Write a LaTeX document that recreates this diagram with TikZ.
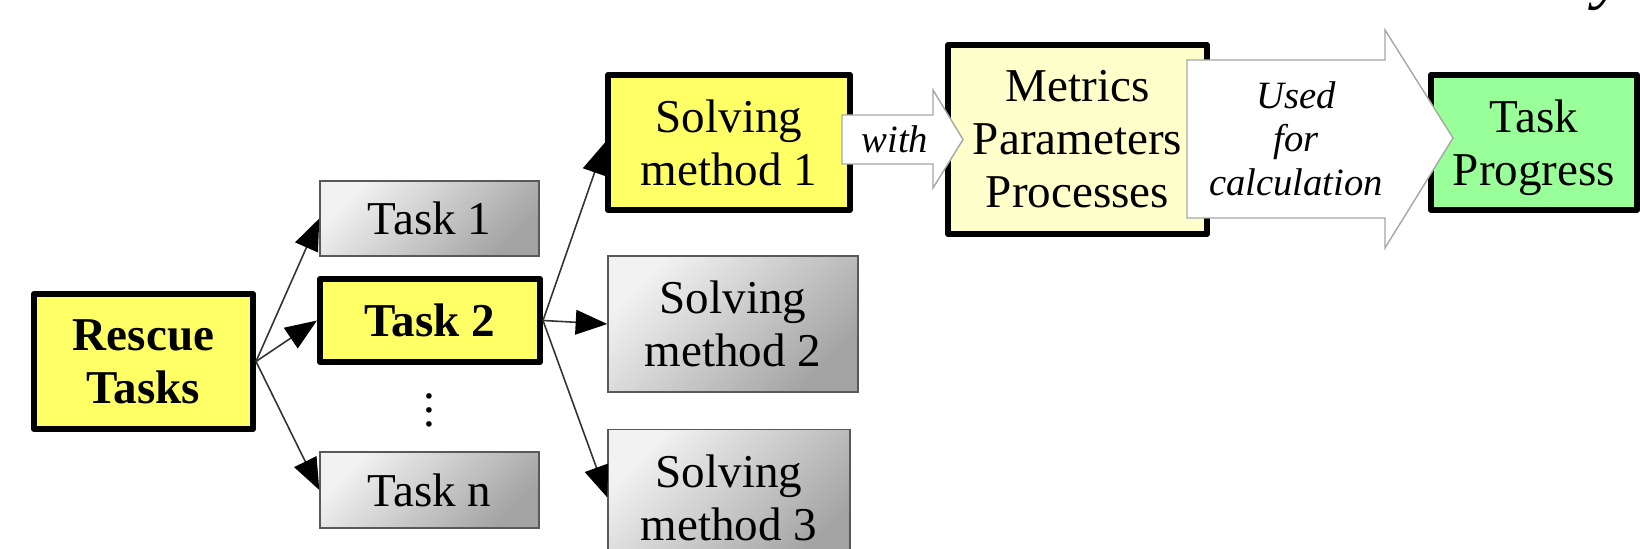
\documentclass[tikz,border=0pt]{standalone}
\usepackage{fontspec}
\setmainfont{Liberation Serif}
\usepackage{tikz}
\usetikzlibrary{arrows.meta}

\definecolor{hotyellow}{HTML}{FFFF66}
\definecolor{paleyellow}{HTML}{FFFFCC}
\definecolor{progressgreen}{HTML}{99FF99}

\tikzset{
  boxtext/.style={font=\fontsize{13.4}{15.1}\selectfont, align=center, inner sep=0pt},
  boldtext/.style={font=\fontsize{13.4}{15.1}\selectfont\bfseries},
  hotbox/.style={boxtext, draw=black, line width=1.7pt, line join=round, fill=hotyellow},
  plainbox/.style={boxtext, draw=black!65, line width=0.4pt, top color=black!5, bottom color=black!36, shading angle=45},
  link/.style={draw=black!80, line width=0.45pt, -{Triangle[length=9pt,width=7pt,color=black]}},
  bigarrow/.style={draw=black!35, line width=0.4pt, fill=white, line join=miter},
  arrowtext/.style={font=\fontsize{11}{12.4}\selectfont\itshape, align=center, inner sep=0pt}
}

\begin{document}
\begin{tikzpicture}
  \useasboundingbox (0,0) rectangle (16.4,5.49);

  % tasks
  \node[hotbox, boldtext, minimum width=2.19cm, minimum height=1.35cm] (rescue) at (1.435,1.875) {Rescue\\Tasks};
  \node[plainbox, minimum width=2.19cm, minimum height=0.75cm] (task1) at (4.295,3.305) {Task 1};
  \node[hotbox, boldtext, minimum width=2.20cm, minimum height=0.83cm] (task2) at (4.30,2.285) {Task 2};
  \node[boxtext] (dots) at (4.29,1.49) {\vdots};
  \node[plainbox, minimum width=2.19cm, minimum height=0.76cm] (taskn) at (4.295,0.59) {Task n};

  % solving methods
  \node[hotbox, minimum width=2.42cm, minimum height=1.35cm] (method1) at (7.29,4.065) {Solving\\method 1};
  \node[plainbox, minimum width=2.50cm, minimum height=1.36cm] (method2) at (7.33,2.25) {Solving\\method 2};
  \node[plainbox, minimum width=2.42cm, minimum height=1.36cm] (method3) at (7.29,0.515) {Solving\\method 3};

  \node[hotbox, fill=paleyellow, minimum width=2.59cm, minimum height=1.89cm] (metrics) at (10.775,4.095) {Metrics\\Parameters\\Processes};
  \node[hotbox, fill=progressgreen, text depth=0pt, minimum width=2.06cm, minimum height=1.35cm] (progress) at (15.34,4.065) {Task\\Progress};

  \draw[link] (rescue.east) -- (task1.west);
  \draw[link] (rescue.east) -- (task2.west);
  \draw[link] (rescue.east) -- (taskn.west);
  \draw[link] (task2.east) -- (method1.west);
  \draw[link] (task2.east) -- (method2.west);
  \draw[link] (task2.east) -- (method3.west);

  % block arrows
  \draw[bigarrow] (8.42,4.34) -- (9.33,4.34) -- (9.33,4.59) -- (9.63,4.095) -- (9.33,3.61) -- (9.33,3.85) -- (8.42,3.85) -- cycle;
  \node[arrowtext] (with) at (8.95,4.10) {with};
  \draw[bigarrow] (11.87,4.89) -- (13.85,4.89) -- (13.85,5.19) -- (14.53,4.11) -- (13.85,3.01) -- (13.85,3.31) -- (11.87,3.31) -- cycle;
  \node[arrowtext] (usedfor) at (12.96,4.105) {Used\\for\\calculation};

  \node[font=\fontsize{20}{20}\selectfont\itshape, anchor=base, inner sep=0pt] (ytail) at (16.10,5.53) {y};
\end{tikzpicture}
\end{document}
